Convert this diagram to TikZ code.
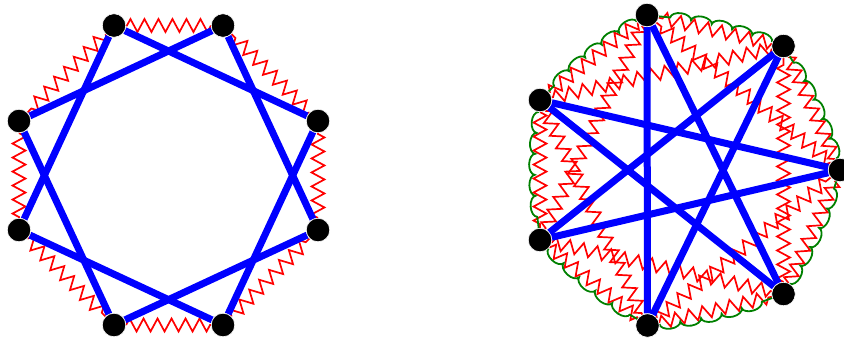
\documentclass[tikz,border=0pt]{standalone}
\usetikzlibrary{decorations.pathmorphing,backgrounds}
\begin{document}
\begin{tikzpicture}[x=1pt,y=-1pt,
  vtx/.style={circle,fill=black,draw=white,line width=0.6pt,minimum size=23.5pt,inner sep=0pt},
  blueedge/.style={blue,line width=7pt},
  rededge/.style={red,line width=1.7pt,decorate,decoration={zigzag,segment length=14pt,amplitude=6.5pt}},
  greenedge/.style={green!50!black,line width=1.8pt,decorate,decoration={bumps,segment length=42pt,amplitude=-6pt}}]
\useasboundingbox (0,0) rectangle (844,338);
% left octagon
\node[vtx] (L0) at (318,121) {};
\node[vtx] (L1) at (223,25.5) {};
\node[vtx] (L2) at (114,25.5) {};
\node[vtx] (L3) at (19,121) {};
\node[vtx] (L4) at (19,230) {};
\node[vtx] (L5) at (114,325) {};
\node[vtx] (L6) at (223,325) {};
\node[vtx] (L7) at (318,230) {};
% right heptagon
\node[vtx] (R0) at (840,170) {};
\node[vtx] (R1) at (783.5,46) {};
\node[vtx] (R2) at (647,15) {};
\node[vtx] (R3) at (540,100) {};
\node[vtx] (R4) at (540,240) {};
\node[vtx] (R5) at (647.5,325.5) {};
\node[vtx] (R6) at (783.5,294) {};
\begin{pgfonlayer}{background}
\foreach \i in {0,...,7}{
  \pgfmathtruncatemacro{\j}{mod(\i+1,8)}
  \draw[rededge] (L\i) -- (L\j);
}
\foreach \i in {0,...,6}{
  \pgfmathtruncatemacro{\j}{mod(\i+1,7)}
  \pgfmathtruncatemacro{\k}{mod(\i+2,7)}
  \draw[rededge] (R\i) -- (R\j);
  \draw[rededge] (R\i) -- (R\k);
  \draw[greenedge] (R\i) to[bend right=6] (R\j);
}
\foreach \i in {0,...,7}{
  \pgfmathtruncatemacro{\j}{mod(\i+2,8)}
  \draw[blueedge] (L\i) -- (L\j);
}
\foreach \i in {0,...,6}{
  \pgfmathtruncatemacro{\j}{mod(\i+3,7)}
  \draw[blueedge] (R\i) -- (R\j);
}
\end{pgfonlayer}
\end{tikzpicture}
\end{document}
